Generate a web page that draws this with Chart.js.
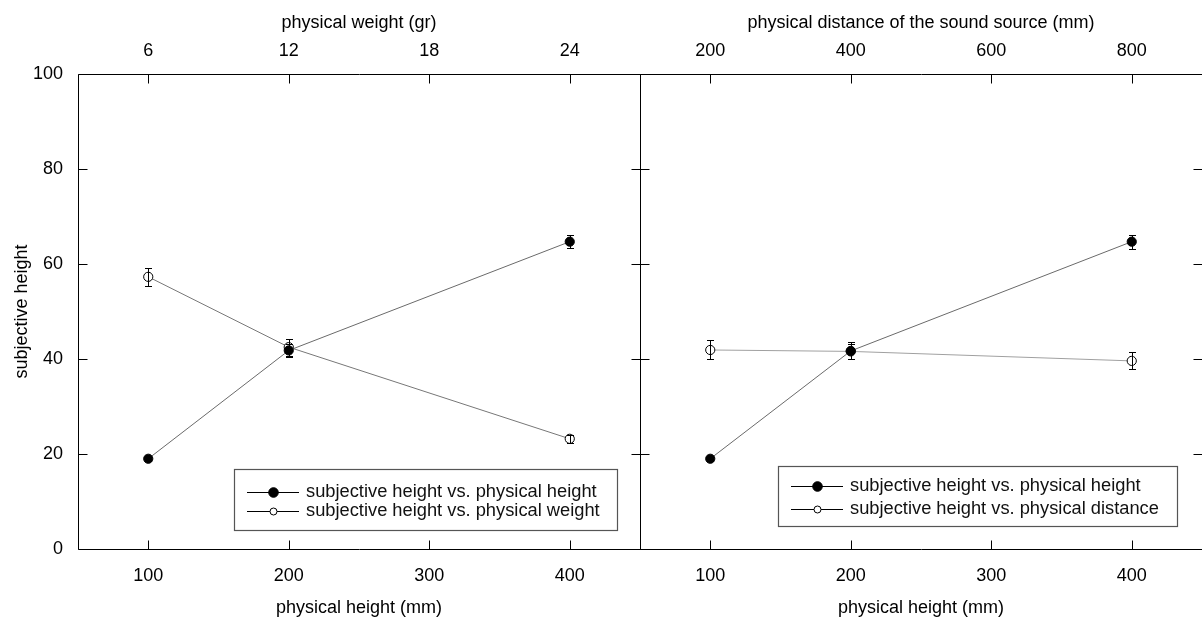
<!DOCTYPE html>
<html>
<head>
<meta charset="utf-8">
<script src="https://cdn.jsdelivr.net/npm/chart.js@4.4.1/dist/chart.umd.min.js"></script>
<style>
    html, body { margin: 0; padding: 0; background: #fff; overflow: hidden; }
    #wrap { position: relative; width: 1202px; height: 619px; overflow: hidden; }
    canvas { position: absolute; top: 0; }
    #left { left: 0; }
    #right { left: 630px; }
</style>
</head>
<body>
<div id="wrap">
    <canvas id="left" width="650" height="619"></canvas>
    <canvas id="right" width="582" height="619"></canvas>
</div>
<script>
// Tick labels
const heightTicks = [100, 200, 300, 400];
const weightTicks = [6, 12, 18, 24];
const distanceTicks = [200, 400, 600, 800];
const yTicks = [0, 20, 40, 60, 80, 100];

// Physical height of the stimuli (mm)
const physicalHeight = [100, 200, 400];

// Left panel: height vs. height and height vs. weight
const leftHeightMeans = [19.0, 41.8, 64.7];
const leftHeightErr = [0.4, 1.4, 1.4];
const weightMeans = [57.3, 42.5, 23.2];
const weightErr = [1.9, 1.8, 0.9];

// Right panel: height vs. height and height vs. distance
const rightHeightMeans = [19.0, 41.7, 64.7];
const rightHeightErr = [0.4, 1.8, 1.5];
const distanceMeans = [41.9, 41.6, 39.6];
const distanceErr = [2.0, 1.5, 1.8];

Chart.defaults.font.family = "'Liberation Sans', Arial, Helvetica, sans-serif";
Chart.defaults.font.size = 18;
Chart.defaults.color = '#000';

const toPoints = (xs, ys) => xs.map((x, i) => ({ x: x, y: ys[i] }));
const setTicks = list => scale => { scale.ticks = list.map(v => ({ value: v })); };
const px = v => Math.round(v) + 0.5;

// Frame around the plot area with inward tick marks
const framePlugin = {
    id: 'frame',
    afterDraw(chart) {
        const ctx = chart.ctx;
        const a = chart.chartArea;
        const l = px(a.left), r = px(a.right), t = px(a.top), b = px(a.bottom);
        const len = 9;
        const { x, x2, y } = chart.scales;
        ctx.save();
        ctx.strokeStyle = '#000';
        ctx.lineWidth = 1;
        ctx.beginPath();
        ctx.moveTo(l, t); ctx.lineTo(r, t); ctx.lineTo(r, b); ctx.lineTo(l, b); ctx.closePath();
        x.ticks.forEach(tk => {
            const p = px(x.getPixelForValue(tk.value));
            ctx.moveTo(p, b); ctx.lineTo(p, b - len);
        });
        x2.ticks.forEach(tk => {
            const p = px(x2.getPixelForValue(tk.value));
            ctx.moveTo(p, t); ctx.lineTo(p, t + len);
        });
        y.ticks.forEach(tk => {
            const p = px(y.getPixelForValue(tk.value));
            ctx.moveTo(l, p); ctx.lineTo(l + len, p);
            ctx.moveTo(r, p); ctx.lineTo(r - len, p);
        });
        ctx.stroke();
        ctx.restore();
    }
};

// Vertical error bars with caps, drawn over the markers
const errorBarPlugin = {
    id: 'errorBars',
    afterDatasetsDraw(chart) {
        const ctx = chart.ctx;
        const y = chart.scales.y;
        ctx.save();
        ctx.strokeStyle = '#000';
        ctx.lineWidth = 1;
        ctx.beginPath();
        chart.data.datasets.forEach((ds, i) => {
            const meta = chart.getDatasetMeta(i);
            meta.data.forEach((pt, j) => {
                const v = ds.data[j].y;
                const e = ds.errors[j];
                const top = px(y.getPixelForValue(v + e));
                const bot = px(y.getPixelForValue(v - e));
                const cx = px(pt.x);
                ctx.moveTo(cx, top); ctx.lineTo(cx, bot);
                ctx.moveTo(cx - 3.5, top); ctx.lineTo(cx + 3.5, top);
                ctx.moveTo(cx - 3.5, bot); ctx.lineTo(cx + 3.5, bot);
            });
        });
        ctx.stroke();
        ctx.restore();
    }
};

// Boxed legend inside the plot area
const boxLegendPlugin = {
    id: 'boxLegend',
    afterDraw(chart, args, opts) {
        const ctx = chart.ctx;
        ctx.save();
        ctx.fillStyle = '#fff';
        ctx.fillRect(opts.left, opts.top, opts.width, opts.height);
        ctx.strokeStyle = '#555';
        ctx.lineWidth = 1.2;
        ctx.strokeRect(px(opts.left), px(opts.top), opts.width, opts.height);
        ctx.font = "18.3px 'Liberation Sans', Arial, sans-serif";
        ctx.textBaseline = 'middle';
        ctx.textAlign = 'left';
        chart.data.datasets.forEach((ds, i) => {
            const ry = opts.top + opts.rows[i];
            ctx.strokeStyle = '#000';
            ctx.lineWidth = 1;
            ctx.beginPath();
            ctx.moveTo(opts.left + 13, px(ry));
            ctx.lineTo(opts.left + 65, px(ry));
            ctx.stroke();
            ctx.beginPath();
            const filled = ds.pointBackgroundColor === '#000';
            ctx.arc(opts.left + 39.5, px(ry), filled ? 4.8 : 3.5, 0, Math.PI * 2);
            ctx.fillStyle = ds.pointBackgroundColor;
            ctx.fill();
            ctx.stroke();
            ctx.fillStyle = '#111';
            ctx.fillText(ds.label, opts.left + 72, ry);
        });
        ctx.restore();
    }
};

function seriesDataset(label, means, errors, filled, lineColor) {
    return {
        label: label,
        data: toPoints(physicalHeight, means),
        errors: errors,
        showLine: true,
        borderColor: lineColor,
        borderWidth: 1,
        pointRadius: 4.6,
        pointBorderWidth: 1,
        pointBorderColor: '#000',
        pointBackgroundColor: filled ? '#000' : '#fff',
        xAxisID: 'x',
        yAxisID: 'y'
    };
}

// Horizontal axes: fixed height, no extra side padding from the labels
const fixHeight = h => s => { s.height = h; s.paddingLeft = 0; s.paddingRight = 0; };

function panelOptions(topTicks, topMin, topMax, topTitle, showY, legendBox) {
    return {
        responsive: false,
        animation: false,
        layout: { padding: { left: 0, right: 10, top: 0, bottom: 0 } },
        plugins: {
            legend: { display: false },
            tooltip: { enabled: false },
            boxLegend: legendBox
        },
        scales: {
            x: {
                type: 'linear',
                position: 'bottom',
                min: 50,
                max: 450,
                afterBuildTicks: setTicks(heightTicks),
                afterFit: fixHeight(70),
                grid: { display: false, drawTicks: false },
                border: { display: false },
                ticks: { padding: 16, maxRotation: 0 },
                title: { display: true, text: 'physical height (mm)', padding: { top: 0, bottom: 0 } }
            },
            x2: {
                type: 'linear',
                position: 'top',
                min: topMin,
                max: topMax,
                afterBuildTicks: setTicks(topTicks),
                afterFit: fixHeight(74),
                grid: { display: false, drawTicks: false },
                border: { display: false },
                ticks: { padding: 12, maxRotation: 0 },
                title: { display: true, text: topTitle, padding: { top: 12, bottom: 0 } }
            },
            y: {
                type: 'linear',
                position: 'left',
                min: 0,
                max: 100,
                afterBuildTicks: setTicks(yTicks),
                afterFit: s => { s.width = showY ? 78 : 10; s.paddingTop = 0; s.paddingBottom = 0; },
                grid: { display: false, drawTicks: false },
                border: { display: false },
                ticks: { display: showY, padding: 15 },
                title: { display: showY, text: 'subjective height', padding: { top: 11, bottom: 0 } }
            }
        }
    };
}

new Chart(document.getElementById('left'), {
    type: 'scatter',
    data: {
        datasets: [
            seriesDataset('subjective height vs. physical height', leftHeightMeans, leftHeightErr, true, '#6a6a6a'),
            seriesDataset('subjective height vs. physical weight', weightMeans, weightErr, false, '#777')
        ]
    },
    options: panelOptions(weightTicks, 3, 27, 'physical weight (gr)', true,
        { left: 234, top: 469, width: 383, height: 61, rows: [23, 42] }),
    plugins: [framePlugin, errorBarPlugin, boxLegendPlugin]
});

// Right canvas runs past the window edge so its frame's right side is cut off
new Chart(document.getElementById('right'), {
    type: 'scatter',
    data: {
        datasets: [
            seriesDataset('subjective height vs. physical height', rightHeightMeans, rightHeightErr, true, '#6a6a6a'),
            seriesDataset('subjective height vs. physical distance', distanceMeans, distanceErr, false, '#a0a0a0')
        ]
    },
    options: panelOptions(distanceTicks, 100, 900, 'physical distance of the sound source (mm)', false,
        { left: 148, top: 466, width: 399, height: 60, rows: [20, 43] }),
    plugins: [framePlugin, errorBarPlugin, boxLegendPlugin]
});
</script>
</body>
</html>
